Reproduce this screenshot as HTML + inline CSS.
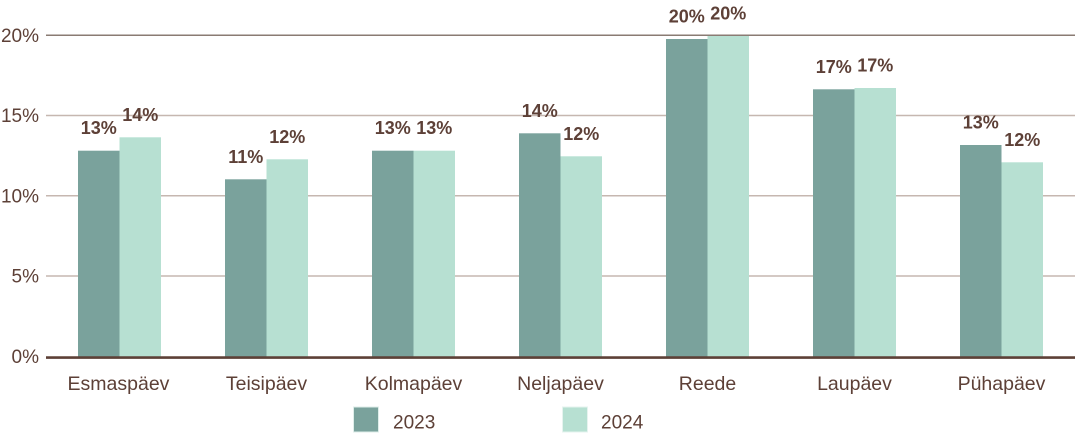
<!DOCTYPE html>
<html><head><meta charset="utf-8"><style>
html,body{margin:0;padding:0;background:#fff;}
svg{display:block;}
text{font-family:"Liberation Sans",sans-serif;fill:#5d4037;}
</style></head><body>
<svg width="1075" height="440" viewBox="0 0 1075 440" xmlns="http://www.w3.org/2000/svg">
<!-- gridlines -->
<line x1="46" y1="35.2" x2="1075" y2="35.2" stroke="#8a7b73" stroke-width="1.5"/>
<line x1="46" y1="115.5" x2="1075" y2="115.5" stroke="#c6b7b0" stroke-width="1.5"/>
<line x1="46" y1="195.8" x2="1075" y2="195.8" stroke="#c6b7b0" stroke-width="1.5"/>
<line x1="46" y1="276" x2="1075" y2="276" stroke="#c6b7b0" stroke-width="1.5"/>
<!-- tick labels -->
<g font-size="19" text-anchor="end">
<text x="39" y="41.8">20%</text>
<text x="39" y="122">15%</text>
<text x="39" y="202.3">10%</text>
<text x="39" y="282.5">5%</text>
<text x="39" y="363">0%</text>
</g>
<!-- bars -->
<g>
<rect x="78" y="150.7" width="41.5" height="206" fill="#7aa29c"/>
<rect x="119.5" y="137.3" width="41.5" height="219.4" fill="#b7e0d2"/>
<rect x="225" y="179.3" width="41.5" height="177.4" fill="#7aa29c"/>
<rect x="266.5" y="159.3" width="41.5" height="197.4" fill="#b7e0d2"/>
<rect x="372" y="150.7" width="41.5" height="206" fill="#7aa29c"/>
<rect x="413.5" y="150.7" width="41.5" height="206" fill="#b7e0d2"/>
<rect x="519" y="133.3" width="41.5" height="223.4" fill="#7aa29c"/>
<rect x="560.5" y="156.3" width="41.5" height="200.4" fill="#b7e0d2"/>
<rect x="666" y="39" width="41.5" height="317.7" fill="#7aa29c"/>
<rect x="707.5" y="36" width="41.5" height="320.7" fill="#b7e0d2"/>
<rect x="813" y="89.3" width="41.5" height="267.4" fill="#7aa29c"/>
<rect x="854.5" y="88" width="41.5" height="268.7" fill="#b7e0d2"/>
<rect x="960" y="145" width="41.5" height="211.7" fill="#7aa29c"/>
<rect x="1001.5" y="162.3" width="41.5" height="194.4" fill="#b7e0d2"/>
</g>
<!-- axis -->
<line x1="46" y1="357.6" x2="1075" y2="357.6" stroke="#5d4037" stroke-width="2.6"/>
<!-- value labels -->
<g font-size="18" font-weight="bold" text-anchor="middle">
<text x="98.75" y="134.2">13%</text>
<text x="140.25" y="120.8">14%</text>
<text x="245.75" y="162.8">11%</text>
<text x="287.25" y="142.8">12%</text>
<text x="392.75" y="134.2">13%</text>
<text x="434.25" y="134.2">13%</text>
<text x="539.75" y="116.8">14%</text>
<text x="581.25" y="139.8">12%</text>
<text x="686.75" y="22.5">20%</text>
<text x="728.25" y="19.5">20%</text>
<text x="833.75" y="72.8">17%</text>
<text x="875.25" y="71.5">17%</text>
<text x="980.75" y="128.5">13%</text>
<text x="1022.25" y="145.8">12%</text>
</g>
<!-- category labels -->
<g font-size="19.5" text-anchor="middle">
<text x="118.5" y="390">Esmaspäev</text>
<text x="266.5" y="390">Teisipäev</text>
<text x="413.5" y="390">Kolmapäev</text>
<text x="560.5" y="390">Neljapäev</text>
<text x="707.5" y="390">Reede</text>
<text x="854.5" y="390">Laupäev</text>
<text x="1001.5" y="390">Pühapäev</text>
</g>
<!-- legend -->
<rect x="353.5" y="407" width="25" height="25" fill="#7aa29c" stroke="#dfeeea" stroke-width="1"/>
<text x="393" y="428.3" font-size="19">2023</text>
<rect x="562.5" y="407" width="25" height="25" fill="#b7e0d2" stroke="#e6f3ef" stroke-width="1"/>
<text x="601" y="428.3" font-size="19">2024</text>
</svg>
</body></html>
